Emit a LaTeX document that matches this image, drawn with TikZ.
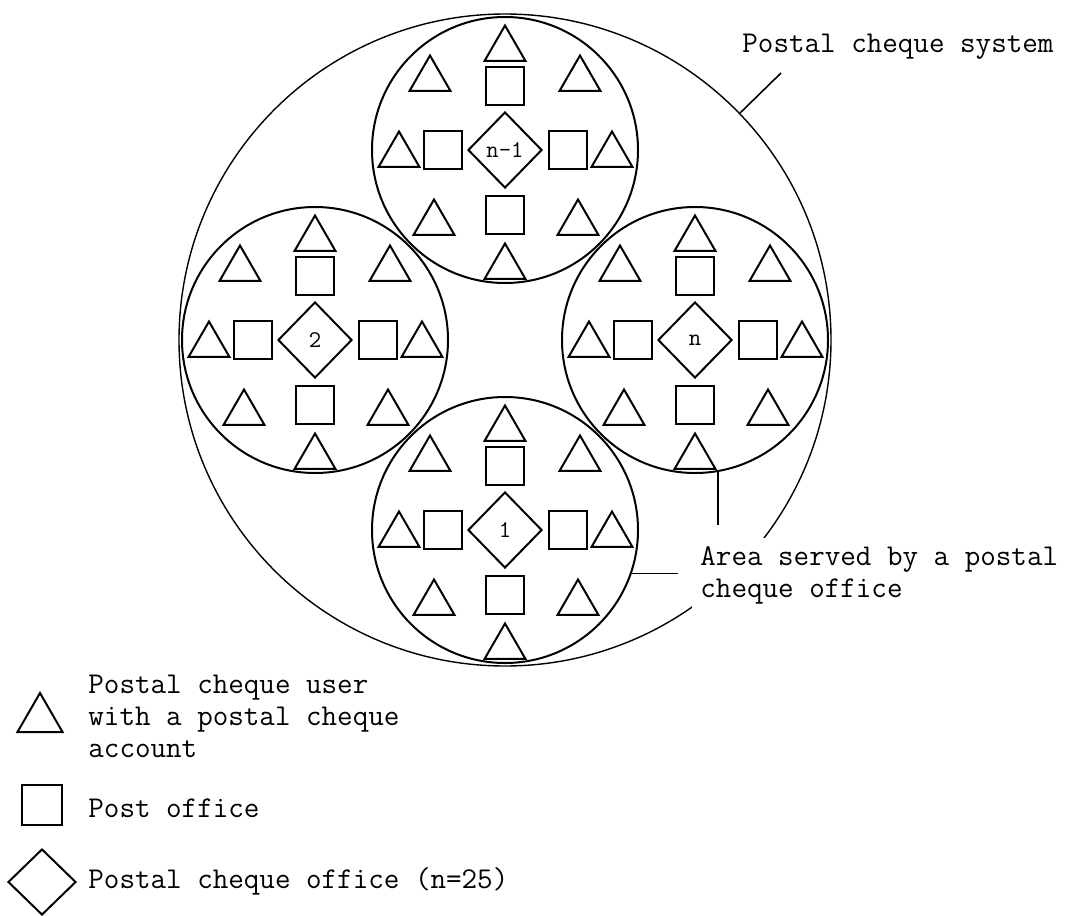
\documentclass[tikz,border=0pt]{standalone}
\usepackage{fontspec}
\usetikzlibrary{shapes.geometric}
\tikzset{
  sys/.style={draw,circle,line width=0.7pt,minimum size=326pt,inner sep=0pt},
  area/.style={draw,circle,line width=1pt,minimum size=133pt,inner sep=0pt},
  office/.style={draw,diamond,line width=1pt,minimum width=37pt,minimum height=38pt,inner sep=0pt,font=\ttfamily\fontsize{12}{12}\selectfont},
  post/.style={draw,rectangle,line width=1pt,minimum size=19pt,inner sep=0pt},
  user/.style={draw,regular polygon,regular polygon sides=3,line width=1pt,minimum size=23.5pt,inner sep=0pt},
  lead/.style={line width=0.8pt},
  lbl/.style={inner sep=0pt,font=\ttfamily\fontsize{15.1}{16}\selectfont},
}
\begin{document}
\begin{tikzpicture}[x=0.5pt,y=-0.5pt]
\useasboundingbox(0,0)rectangle(1066,916);
\pgfmathsetmacro{\kcx}{505}
\pgfmathsetmacro{\kcy}{340}
\pgfmathsetmacro{\kofs}{190}
\node[sys](sys)at(\kcx,\kcy){};
\foreach \n/\dx/\dy/\lb in {top/0/-1/{n-1},lft/-1/0/2,rgt/1/0/n,bot/0/1/1}{
  \node[area](a\n)at(\kcx+\dx*\kofs,\kcy+\dy*\kofs){};
  \node[office](o\n)at(a\n){\lb};
  \foreach \sx/\sy [count=\k] in {0/-64,0/65,-62/0,63/0}{\node[post](p\n\k)at([shift={(\sx,\sy)}]a\n){};}
  \foreach \tx/\ty [count=\k] in {0/-101,0/117,-106/5,107/5,-75/-71,75/-71,-71/73,73/73}{\node[user](u\n\k)at([shift={(\tx,\ty)}]a\n){};}
}
\coordinate(sysend)at(781,73);
\coordinate(arend)at(718,525);
\coordinate(acend)at(678,575);
\draw[lead](sys.44)--(sysend);
\draw[lead](argt.-80)--(argt.-80|-arend);
\draw[lead](abot.-19.5)--(abot.-19.5-|acend);
\node[lbl,anchor=base west](syslb)at(742,52){Postal cheque system};
\node[lbl,anchor=base west,align=left,fill=white,inner sep=4pt](arlb)at(692,597){Area served by a postal\\cheque office};
\node[user,minimum size=26pt](lu)at(40,719){};
\node[post,minimum size=20pt](lp)at(42,805){};
\node[office,minimum width=34pt,minimum height=33pt](lo)at(42,882){};
\node[lbl,anchor=base west,align=left](lulb)at(88,757){Postal cheque user\\with a postal cheque\\account};
\node[lbl,anchor=base west](lplb)at(88,817){Post office};
\node[lbl,anchor=base west](lolb)at(88,888){Postal cheque office (n=25)};
\end{tikzpicture}
\end{document}
